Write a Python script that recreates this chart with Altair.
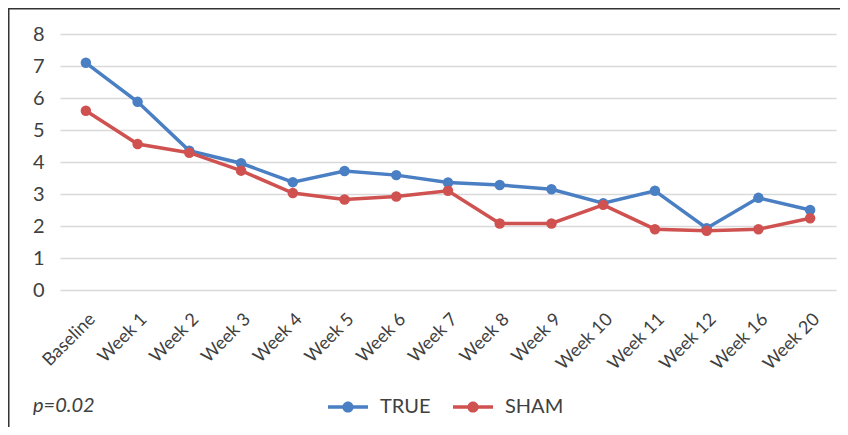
import altair as alt
import pandas as pd

categories = ["Baseline", "Week 1", "Week 2", "Week 3", "Week 4", "Week 5", "Week 6",
              "Week 7", "Week 8", "Week 9", "Week 10", "Week 11", "Week 12", "Week 16", "Week 20"]
true_vals = [7.10, 5.88, 4.35, 3.96, 3.37, 3.72, 3.59, 3.36, 3.28, 3.15, 2.71, 3.10, 1.93, 2.88, 2.50]
sham_vals = [5.60, 4.56, 4.29, 3.73, 3.03, 2.83, 2.92, 3.10, 2.08, 2.08, 2.66, 1.90, 1.85, 1.90, 2.24]
series_names = ["TRUE", "SHAM"]
series_colors = ["#4a7fc4", "#cf5250"]
y_ticks = [0, 1, 2, 3, 4, 5, 6, 7, 8]
note_text = "p=0.02"

rows = []
for name, vals in zip(series_names, [true_vals, sham_vals]):
    for c, v in zip(categories, vals):
        rows.append({"category": c, "value": v, "series": name})
df = pd.DataFrame(rows)

FONT = "Lato"
TXT = "#404040"

legend_path = ("M-1,-0.09L1,-0.09L1,0.09L-1,0.09Z"
               "M0.28,0A0.28,0.28,0,1,1,-0.28,0A0.28,0.28,0,1,1,0.28,0Z")

x_enc = alt.X("category:N", sort=categories, title=None,
              scale=alt.Scale(type="point", padding=0.5),
              axis=alt.Axis(labelAngle=-45, labelAlign="right", labelBaseline="top",
                            labelPadding=20, tickSize=0, domain=False, grid=False,
                            labelFont=FONT, labelFontSize=18, labelColor=TXT))
y_enc = alt.Y("value:Q", title=None,
              scale=alt.Scale(domain=[0, 8], nice=False),
              axis=alt.Axis(values=y_ticks, tickSize=0, domain=False, grid=True,
                            gridColor="#d9d9d9", gridWidth=1.5, labelPadding=16,
                            labelFont=FONT, labelFontSize=20, labelColor=TXT))

legend = alt.Legend(title=None, orient="none", legendX=268, legendY=353,
                    direction="horizontal", symbolType=legend_path,
                    symbolSize=1600, symbolStrokeWidth=0,
                    labelFont=FONT, labelFontSize=20, labelColor=TXT,
                    labelOffset=12, columnPadding=22, padding=0)
color_enc = alt.Color("series:N", scale=alt.Scale(domain=series_names, range=series_colors),
                      legend=legend)

base = alt.Chart(df)
layers = []
for name in series_names:
    f = base.transform_filter(alt.datum.series == name)
    layers.append(f.mark_line(strokeWidth=3.5).encode(x=x_enc, y=y_enc, color=color_enc))
    layers.append(f.mark_circle(size=110, opacity=1).encode(x=x_enc, y=y_enc, color=color_enc))

one = alt.Chart(pd.DataFrame({"t": [note_text]}))
frame = one.mark_rect(fill="transparent", stroke="#333333", strokeWidth=1.5).encode(
    x=alt.value(-51.25), x2=alt.value(820), y=alt.value(-25.25), y2=alt.value(440))
note = one.mark_text(align="left", baseline="alphabetic", font=FONT, fontSize=20,
                     fontStyle="italic", color=TXT).encode(
    text="t:N", x=alt.value(-27), y=alt.value(378))

chart = alt.layer(*layers, frame, note).properties(
    width=776, height=256,
    autosize=alt.AutoSizeParams(type="none"),
    padding={"left": 52, "top": 26, "right": 4, "bottom": 137},
).configure_view(stroke=None)

chart.save("out.html", embed_options={"renderer": "svg", "actions": False})
